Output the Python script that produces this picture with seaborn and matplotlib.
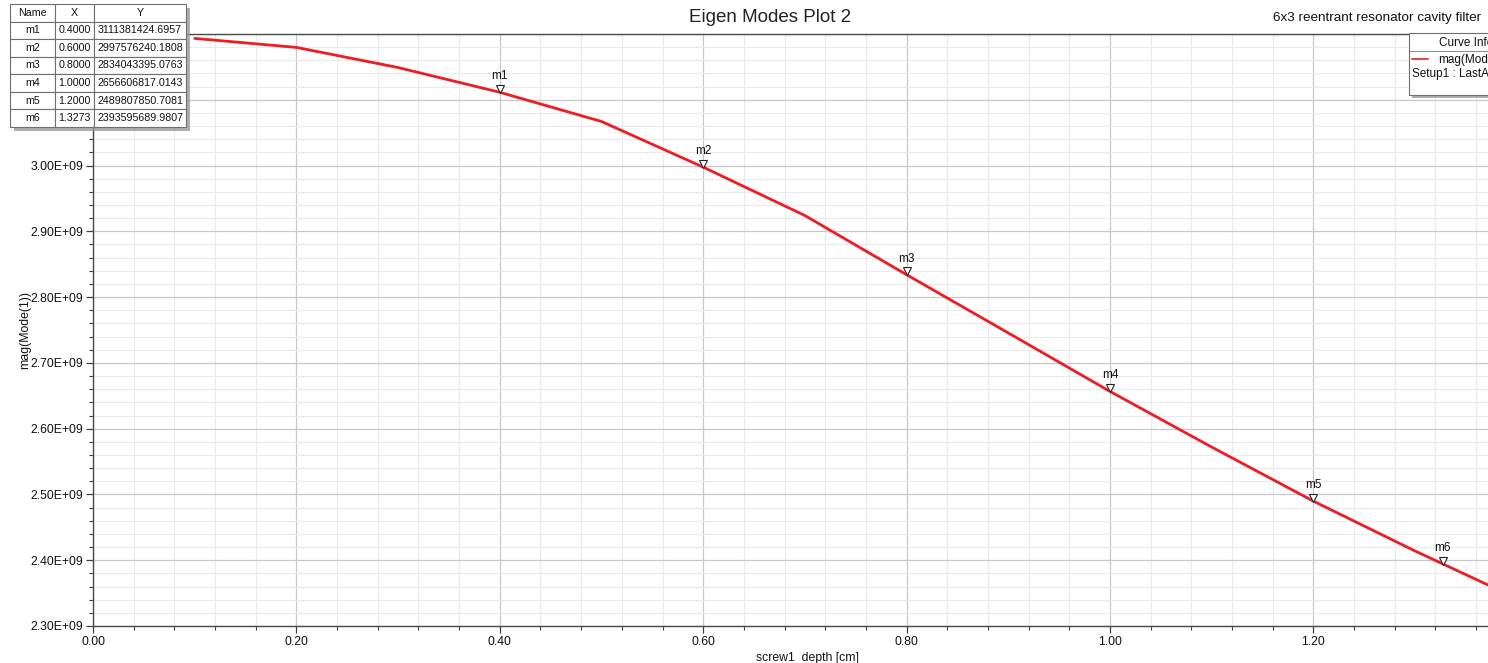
import matplotlib
matplotlib.use("Agg")
import matplotlib.pyplot as plt
import matplotlib.transforms as mtransforms
from matplotlib.patches import Rectangle
from matplotlib.ticker import MultipleLocator, FuncFormatter
import seaborn as sns
import pandas as pd

# ---- data ----
depth_cm = [0.1, 0.2, 0.3, 0.4, 0.5, 0.6, 0.7, 0.8, 0.9, 1.0, 1.1, 1.2, 1.3, 1.4]
mode1_hz = [3.1933e9, 3.1796e9, 3.1490e9, 3.1113814e9, 3.0670e9, 2.9975762e9,
            2.9240e9, 2.8340434e9, 2.7455e9, 2.6566068e9, 2.5720e9, 2.4898079e9,
            2.4140e9, 2.3420e9]
marker_names = ["m1", "m2", "m3", "m4", "m5", "m6"]
marker_x = [0.4000, 0.6000, 0.8000, 1.0000, 1.2000, 1.3273]
marker_y = [3111381424.6957, 2997576240.1808, 2834043395.0763,
            2656606817.0143, 2489807850.7081, 2393595689.9807]
title_text = "Eigen Modes Plot 2"
subtitle_text = "6x3 reentrant resonator cavity filter"
x_label = "screw1_depth [cm]"
y_label = "mag(Mode(1))"
legend_entry = "mag(Mode(1))"
legend_setup = "Setup1 : LastAdaptive"

W, H = 1488, 663
def fx(px): return px / W
def fy(py): return 1 - py / H

sns.set_style("white")
plt.rcParams['font.family'] = ['Liberation Sans', 'DejaVu Sans']

fig = plt.figure(figsize=(W / 100, H / 100), dpi=100)
ax_l, ax_r, ax_t, ax_b = 93, 1488, 34, 626
ax = fig.add_axes([fx(ax_l), fy(ax_b), (ax_r - ax_l) / W, (ax_b - ax_t) / H])

df = pd.DataFrame({"x": depth_cm, "y": mode1_hz})
sns.lineplot(data=df, x="x", y="y", ax=ax, color="#ee1c24", linewidth=2.0,
             zorder=3, legend=False)

ax.set_xlim(0, (ax_r - ax_l) / 1017)
ax.set_ylim(2.30e9, 3.20e9)
ax.xaxis.set_major_locator(MultipleLocator(0.2))
ax.xaxis.set_minor_locator(MultipleLocator(0.04))
ax.yaxis.set_major_locator(MultipleLocator(0.1e9))
ax.yaxis.set_minor_locator(MultipleLocator(0.02e9))
ax.xaxis.set_major_formatter(FuncFormatter(lambda v, p: f"{v:.2f}"))
def yfmt(v, p):
    return f"{v / 1e9:.2f}E+09"
ax.yaxis.set_major_formatter(FuncFormatter(yfmt))
ax.grid(which="major", color="#c8c8c8", linewidth=0.9)
ax.grid(which="minor", color="#ebebeb", linewidth=0.8)
ax.set_axisbelow(True)
ax.tick_params(which="major", direction="out", length=5, width=0.9, color="#404040",
               labelsize=8.8, labelcolor="#111111", left=True, bottom=True, pad=2)
ax.tick_params(which="minor", direction="out", length=3, width=0.8, color="#404040",
               left=True, bottom=True)
for s in ["left", "bottom", "top"]:
    ax.spines[s].set_color("#4a4a4a")
    ax.spines[s].set_linewidth(1.0)
ax.spines["right"].set_visible(False)
ax.set_xlabel("")
ax.set_ylabel("")
fig.text(fx(25), fy(330), y_label, rotation=90, ha="center", va="center",
         fontsize=8.8, color="#111111")

# markers
tri_tr = mtransforms.offset_copy(ax.transData, fig=fig, x=0, y=3.5, units="dots")
txt_tr = mtransforms.offset_copy(ax.transData, fig=fig, x=0, y=10, units="dots")
ax.plot(marker_x, marker_y, linestyle="none", marker="v", markersize=5.5,
        markerfacecolor="white", markeredgecolor="#222222", markeredgewidth=0.8,
        transform=tri_tr, zorder=4)
for n, mx, my in zip(marker_names, marker_x, marker_y):
    ax.text(mx, my, n, transform=txt_tr, ha="center", va="bottom", fontsize=8.5,
            color="#111111", zorder=4)

# title / subtitle / xlabel
fig.text(fx(770), fy(18), title_text, ha="center", va="center", fontsize=13.5, color="#222222")
fig.text(fx(1481), fy(18), subtitle_text, ha="right", va="center", fontsize=9.7, color="#111111")
fig.text(fx(807), fy(652), x_label, ha="center", va="top", fontsize=8.8, color="#111111")

# marker table (top-left)
tl, tt, tr, tb = 10, 4, 186, 127
fig.patches.append(Rectangle((fx(tl + 4), fy(tb + 4)), (tr - tl) / W, (tb - tt) / H,
                             transform=fig.transFigure, facecolor="#9a9a9a",
                             edgecolor="none", zorder=9, alpha=0.8))
tax = fig.add_axes([fx(tl), fy(tb), (tr - tl) / W, (tb - tt) / H], zorder=10)
tax.axis("off")
rows = [[n, f"{x:.4f}", f"{y:.4f}"] for n, x, y in zip(marker_names, marker_x, marker_y)]
tbl = tax.table(cellText=rows, colLabels=["Name", "X", "Y"], bbox=[0, 0, 1, 1],
                colWidths=[45, 39, 92], cellLoc="center")
tbl.auto_set_font_size(False)
for (r, c), cell in tbl.get_celld().items():
    cell.set_facecolor("white")
    cell.set_edgecolor("#6f6f6f")
    cell.set_linewidth(0.8)
    cell.get_text().set_fontsize(7.7)
    cell.get_text().set_color("#111111")
    cell.PAD = 0.01

# legend box (top-right, clipped by figure edge)
ll, lt, lr, lb = 1409, 33, 1530, 95
fig.patches.append(Rectangle((fx(ll + 3), fy(lb + 3)), (lr - ll) / W, (lb - lt) / H,
                             transform=fig.transFigure, facecolor="#9a9a9a",
                             edgecolor="none", zorder=9, alpha=0.8))
fig.patches.append(Rectangle((fx(ll), fy(lb)), (lr - ll) / W, (lb - lt) / H,
                             transform=fig.transFigure, facecolor="white",
                             edgecolor="#6f6f6f", linewidth=0.8, zorder=10))
fig.lines.append(plt.Line2D([fx(ll), fx(lr)], [fy(51), fy(51)], transform=fig.transFigure,
                            color="#8a8a8a", linewidth=0.7, zorder=11))
fig.text(fx(1439), fy(43), "Curve Info", ha="left", va="center", fontsize=8.5,
         color="#111111", zorder=12)
fig.lines.append(plt.Line2D([fx(1412), fx(1428)], [fy(59), fy(59)], transform=fig.transFigure,
                            color="#ee1c24", linewidth=1.2, zorder=12))
fig.text(fx(1438), fy(60), legend_entry, ha="left", va="center", fontsize=8.5,
         color="#111111", zorder=12)
fig.text(fx(1412), fy(74), legend_setup, ha="left", va="center", fontsize=8.5,
         color="#111111", zorder=12)

fig.savefig("out.png", dpi=100)
